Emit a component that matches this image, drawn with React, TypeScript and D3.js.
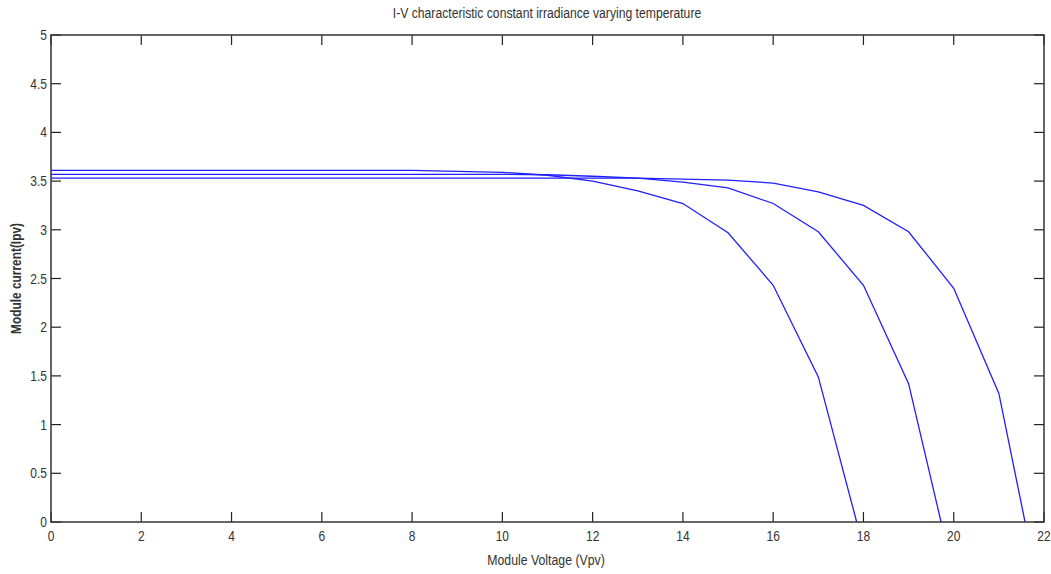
import React from "react";
import * as d3 from "d3";

const title = "I-V characteristic constant irradiance varying temperature";
const xLabel = "Module Voltage (Vpv)";
const yLabel = "Module current(Ipv)";

const xTicks = [0, 2, 4, 6, 8, 10, 12, 14, 16, 18, 20, 22];
const yTicks = [0, 0.5, 1, 1.5, 2, 2.5, 3, 3.5, 4, 4.5, 5];

const v1 = [0, 1, 2, 3, 4, 5, 6, 7, 8, 9, 10, 11, 12, 13, 14, 15, 16, 17, 17.85];
const i1 = [3.61, 3.61, 3.61, 3.61, 3.61, 3.61, 3.61, 3.61, 3.61, 3.60, 3.59, 3.56, 3.50, 3.40, 3.27, 2.97, 2.43, 1.49, 0];

const v2 = [0, 1, 2, 3, 4, 5, 6, 7, 8, 9, 10, 11, 12, 13, 14, 15, 16, 17, 18, 19, 19.72];
const i2 = [3.57, 3.57, 3.57, 3.57, 3.57, 3.57, 3.57, 3.57, 3.57, 3.57, 3.57, 3.565, 3.55, 3.53, 3.49, 3.43, 3.27, 2.98, 2.43, 1.42, 0];

const v3 = [0, 1, 2, 3, 4, 5, 6, 7, 8, 9, 10, 11, 12, 13, 14, 15, 16, 17, 18, 19, 20, 21, 21.58];
const i3 = [3.53, 3.53, 3.53, 3.53, 3.53, 3.53, 3.53, 3.53, 3.53, 3.53, 3.53, 3.53, 3.53, 3.53, 3.52, 3.51, 3.48, 3.39, 3.25, 2.98, 2.40, 1.32, 0];

const seriesV = [v1, v2, v3];
const seriesI = [i1, i2, i3];

function CText(props: {
  x: number;
  y: number;
  size: number;
  anchor: string;
  sx?: number;
  rotate?: number;
  bold?: boolean;
  children: React.ReactNode;
}) {
  const sx = props.sx ?? 0.8;
  return (
    <g transform={`translate(${props.x},${props.y}) rotate(${props.rotate ?? 0}) scale(${sx},1)`}>
      <text
        x={0}
        y={0}
        textAnchor={props.anchor as any}
        fontSize={props.size}
        fontWeight={props.bold ? "bold" : "normal"}
        fill="#333"
      >
        {props.children}
      </text>
    </g>
  );
}

export default function App() {
  const W = 1051;
  const H = 574;
  const left = 51;
  const right = 1044;
  const top = 35;
  const bottom = 522;
  const x = d3.scaleLinear().domain([0, 22]).range([left, right]);
  const y = d3.scaleLinear().domain([0, 5]).range([bottom, top]);
  const line = d3
    .line<[number, number]>()
    .x((d) => x(d[0]))
    .y((d) => y(d[1]));
  const tickLen = 10;
  const font = "'Liberation Sans', Arial, sans-serif";

  return (
    <svg
      width={W}
      height={H}
      style={{ position: "absolute", left: 0, top: 0, background: "#fff" }}
      fontFamily={font}
    >
      <rect x={0} y={0} width={W} height={H} fill="#fff" />
      <CText x={547} y={18} size={14} anchor="middle" sx={0.87}>
        {title}
      </CText>
      {seriesV.map((vs, k) => (
        <path
          key={k}
          d={line(vs.map((v, j) => [v, seriesI[k][j]] as [number, number])) || ""}
          fill="none"
          stroke="#1f1fff"
          strokeWidth={1.3}
        />
      ))}
      {xTicks.map((t) => (
        <g key={"x" + t}>
          <line x1={x(t)} x2={x(t)} y1={bottom} y2={bottom - tickLen} stroke="#222" strokeWidth={1.2} />
          <line x1={x(t)} x2={x(t)} y1={top} y2={top + tickLen} stroke="#222" strokeWidth={1.2} />
          <CText x={x(t)} y={bottom + 19} size={15} anchor="middle">
            {t}
          </CText>
        </g>
      ))}
      {yTicks.map((t) => (
        <g key={"y" + t}>
          <line x1={left} x2={left + tickLen} y1={y(t)} y2={y(t)} stroke="#222" strokeWidth={1.2} />
          <line x1={right} x2={right - tickLen} y1={y(t)} y2={y(t)} stroke="#222" strokeWidth={1.2} />
          <CText x={left - 4} y={y(t) + 5} size={15} anchor="end">
            {t}
          </CText>
        </g>
      ))}
      <rect
        x={left}
        y={top}
        width={right - left}
        height={bottom - top}
        fill="none"
        stroke="#333"
        strokeWidth={1.5}
      />
      <CText x={546} y={565} size={15} anchor="middle" sx={0.82}>
        {xLabel}
      </CText>
      <CText x={21} y={(top + bottom) / 2} size={14} anchor="middle" rotate={-90} sx={0.85} bold>
        {yLabel}
      </CText>
    </svg>
  );
}
